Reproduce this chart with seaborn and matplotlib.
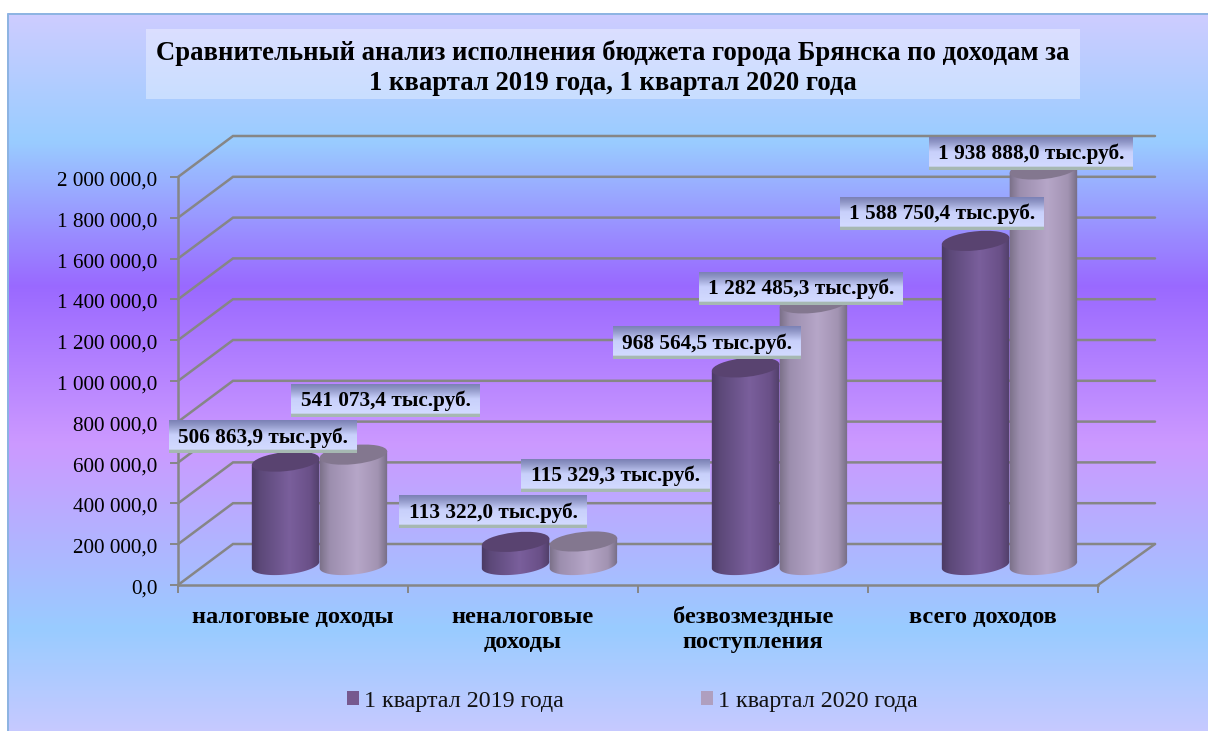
import numpy as np
import pandas as pd
import matplotlib
matplotlib.use('Agg')
import matplotlib.pyplot as plt
import seaborn as sns
from matplotlib.colors import LinearSegmentedColormap
from matplotlib.patches import Ellipse, Polygon, Rectangle
from matplotlib.transforms import Affine2D

categories = ['налоговые доходы', 'неналоговые\nдоходы', 'безвозмездные\nпоступления', 'всего доходов']
series_names = ['1 квартал 2019 года', '1 квартал 2020 года']
values_2019 = [506863.9, 113322.0, 968564.5, 1588750.4]
values_2020 = [541073.4, 115329.3, 1282485.3, 1938888.0]
y_ticks = [0, 200000, 400000, 600000, 800000, 1000000, 1200000, 1400000, 1600000, 1800000, 2000000]
title_lines = ['Сравнительный анализ исполнения бюджета города Брянска по доходам за',
               '1 квартал 2019 года, 1 квартал 2020 года']

W, H = 1208, 731
GRID = '#868686'
FS = 15.3
FS_BIG = 17.6

# label boxes in pixels: centre x, centre y, width
boxes_2019 = [(263, 437, 188), (493, 512, 188), (707, 343, 188), (942, 213.5, 204)]
boxes_2020 = [(385.5, 400.5, 189), (615.5, 475.5, 189), (801, 288.5, 204), (1031, 153.5, 204)]


def fmt(v, unit=''):
    s = f'{v:,.1f}'.replace(',', ' ').replace('.', ',')
    return s + unit


sns.set_theme(style='ticks')
plt.rcParams['font.family'] = ['Liberation Serif', 'DejaVu Serif']

fig = plt.figure(figsize=(W / 100, H / 100), dpi=100, facecolor='white')

# background with walls, pixel coords
bg = fig.add_axes([0, 0, 1, 1], zorder=0)
bg.set_xlim(0, W)
bg.set_ylim(H, 0)
bg.axis('off')
bg.set_autoscale_on(False)
stops = [(0, '#CECCFF'), (0.178, '#99CCFF'), (0.38, '#9A69FF'), (0.60, '#CC99FF'),
         (0.86, '#99CCFF'), (1, '#C6C9FF')]
bg_cmap = LinearSegmentedColormap.from_list('bg', stops, N=512)
bg.imshow(np.linspace(0, 1, 718).reshape(-1, 1), cmap=bg_cmap, extent=(7, W, H, 13), aspect='auto', zorder=0)
bg.plot([7.5, 7.5, W], [H, 13.5, 13.5], color='#8DB4E2', lw=1.4, zorder=1)
bg.add_patch(Rectangle((146, 29), 934, 70, facecolor='white', alpha=0.36, edgecolor='none', zorder=1))
bg.text(613, 53.5, title_lines[0], fontsize=19.2, fontweight='bold', ha='center', va='center', color='black', zorder=2)
bg.text(613, 83.5, title_lines[1], fontsize=19.2, fontweight='bold', ha='center', va='center', color='black', zorder=2)

# front axes, seaborn bars
ax = fig.add_axes([178 / W, (H - 585) / H, 920 / W, 408 / H], zorder=2)
ax.patch.set_alpha(0)
df = pd.DataFrame({
    'cat': categories * 2,
    'val': values_2019 + values_2020,
    'ser': [series_names[0]] * 4 + [series_names[1]] * 4,
})
colors = ['#76598F', '#AF9FBF']
sns.barplot(data=df, x='cat', y='val', hue='ser', palette=colors, width=0.59, gap=0,
            saturation=1, ax=ax, legend=False)
ax.set_xlim(-0.5, 3.5)
ax.set_ylim(0, 2000000)
ax.set_xlabel('')
ax.set_ylabel('')
ax.set_yticks(y_ticks)
ax.set_yticklabels([fmt(v) for v in y_ticks], fontsize=FS, color='black')
ax.set_xticks(range(4))
ax.set_xticklabels(categories, fontsize=FS_BIG, fontweight='bold', color='black', linespacing=1.25)
ax.set_xticks([-0.5, 0.5, 1.5, 2.5, 3.5], minor=True)
ax.tick_params(axis='x', which='major', length=0, pad=15.5)
ax.tick_params(axis='x', which='minor', length=6, width=1.4, color=GRID)
ax.tick_params(axis='y', length=6, width=1.4, color=GRID, pad=9)
for lab in ax.get_yticklabels():
    lab.set_transform(lab.get_transform() + Affine2D().translate(0, -1.5))
sns.despine(ax=ax)
for side in ['left', 'bottom']:
    ax.spines[side].set_color(GRID)
    ax.spines[side].set_linewidth(1.8)

fig.canvas.draw()


def px(x, v):
    p = ax.transData.transform((x, v))
    return p[0], H - p[1]


# back wall and left wall lines
for v in y_ticks:
    x0, y0 = px(-0.5, v)
    x1, _ = px(3.5, v)
    bg.plot([x0, x0 + 55, x1 + 57], [y0, y0 - 41, y0 - 41], color=GRID, lw=1.8, zorder=1,
            solid_joinstyle='miter')
x0, y0 = px(3.5, 0)
bg.plot([x0, x0 + 57], [y0, y0 - 41], color=GRID, lw=1.8, zorder=1)

# overlay for cylinders and labels
top = fig.add_axes([0, 0, 1, 1], zorder=3)
top.set_xlim(0, W)
top.set_ylim(H, 0)
top.axis('off')
top.set_autoscale_on(False)

DX, DY = 26.5, -20
TILT = np.deg2rad(6)
B = 9.5
shift = Affine2D().translate(DX, -DY)

body_maps = [
    LinearSegmentedColormap.from_list('c0', [(0, '#4A3A62'), (0.12, '#5C4878'), (0.55, '#7A5F9C'),
                                             (0.85, '#6A5088'), (1, '#4E3D66')]),
    LinearSegmentedColormap.from_list('c1', [(0, '#7A7088'), (0.15, '#9C8EAE'), (0.55, '#B6A6C8'),
                                             (0.85, '#A293B2'), (1, '#736A80')]),
]
cap_colors = ['#594370', '#83778F']


def outline(cx, cy, a, t):
    # rotated ellipse, y pointing down, right side higher
    ex = a * np.cos(t)
    ey = B * np.sin(t)
    return cx + ex * np.cos(TILT) + ey * np.sin(TILT), cy - ex * np.sin(TILT) + ey * np.cos(TILT)


for cat_i in range(4):
    for s_i, cont in enumerate(ax.containers):
        bar = cont[cat_i]
        bar.set_transform(shift + ax.transData)
        xl, yb = px(bar.get_x(), 0)
        xr, yt = px(bar.get_x() + bar.get_width(), bar.get_height())
        xl, xr = xl + DX, xr + DX
        yb, yt = yb + DY, yt + DY
        cx, a = (xl + xr) / 2, (xr - xl) / 2
        t = np.linspace(-TILT * 0.5, np.pi + TILT * 0.5, 60)
        lx, ly = outline(cx, yb, a, t)
        ux, uy = outline(cx, yt, a, np.array([np.pi, 0.0]))
        pts = np.column_stack([np.r_[lx, ux], np.r_[ly, uy]])
        body = Polygon(pts, closed=True, facecolor='none', edgecolor='none', zorder=2 + cat_i * 2 + s_i * 0.5)
        top.add_patch(body)
        bar.set_clip_path(body)
        im = top.imshow(np.linspace(0, 1, 80).reshape(1, -1), cmap=body_maps[s_i], aspect='auto',
                        extent=(xl - 1, xr + 1, yb + B + 6, yt - B - 6), zorder=body.get_zorder())
        im.set_clip_path(body)
        top.add_patch(Ellipse((cx, yt), 2 * a, 2 * B, angle=-np.rad2deg(TILT), facecolor=cap_colors[s_i],
                              edgecolor='none', zorder=body.get_zorder() + 0.1))

# value labels
label_map = LinearSegmentedColormap.from_list('lab', [(0, '#7C82B6'), (0.15, '#9198C8'), (0.45, '#C8D0FB'),
                                                      (0.9, '#D2DAFF'), (0.93, '#A6B8B2'), (1, '#A6B8B2')])
for vals, boxes in [(values_2019, boxes_2019), (values_2020, boxes_2020)]:
    for v, (bx, by, bw) in zip(vals, boxes):
        top.imshow(np.linspace(0, 1, 33).reshape(-1, 1), cmap=label_map, aspect='auto', zorder=20,
                   extent=(bx - bw / 2, bx + bw / 2, by + 16.5, by - 16.5))
        top.text(bx, by + 0.5, fmt(v, ' тыс.руб.'), fontsize=FS, fontweight='bold', ha='center', va='center',
                 color='black', zorder=21)

# legend
handles = [Rectangle((0, 0), 1, 1, facecolor=c, edgecolor='none') for c in colors]
fig.legend(handles, series_names, ncols=2, frameon=False, fontsize=17.3, loc='center',
           bbox_to_anchor=(632.5 / W, 1 - 701 / H), handlelength=0.5, handleheight=0.5,
           handletextpad=0.22, columnspacing=5.7, labelcolor='#111111')

fig.savefig('out.png', dpi=100)
